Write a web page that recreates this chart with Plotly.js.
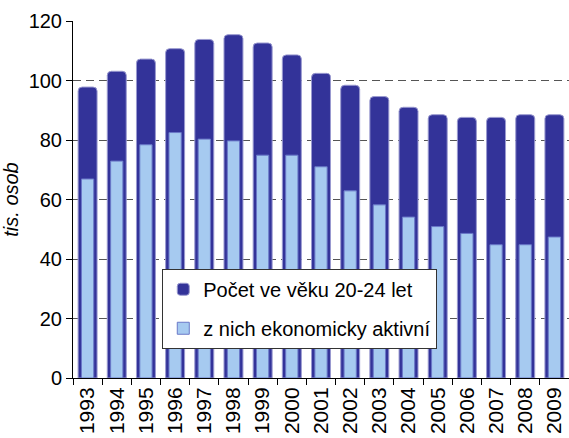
<!DOCTYPE html>
<html>
<head>
<meta charset="utf-8">
<script src="https://cdn.plot.ly/plotly-3.0.1.min.js"></script>
<style>
  body { margin: 0; background: #fff; }
  #graf { width: 569px; height: 438px; }
</style>
</head>
<body>
<div id="graf"></div>
<script>
var roky =
["1993", "1994", "1995", "1996", "1997", "1998", "1999", "2000", "2001", "2002", "2003", "2004", "2005", "2006", "2007", "2008", "2009"];
var pocet =
[97.8, 103.1, 107.2, 110.7, 113.8, 115.4, 112.6, 108.6, 102.4, 98.4, 94.6, 91.0, 88.5, 87.6, 87.6, 88.5, 88.5];
var aktivni =
[66.9, 72.9, 78.4, 82.5, 80.3, 79.7, 74.9, 74.9, 71.0, 62.9, 58.2, 54.1, 50.9, 48.6, 44.8, 44.8, 47.4];
var nazvy =
["Počet ve věku 20-24 let", "z nich ekonomicky aktivní"];

function graf() {
    var celkem = {
        x: roky,
        y: pocet,
        name: nazvy[0],
        type: 'bar',
        width: 0.65,
        legendgroup: 'a',
        marker: {color: '#333399', cornerradius: 4, line: {color: '#9a9ad0', width: 1}}
    };

    var akt = {
        x: roky,
        y: aktivni,
        name: nazvy[1],
        type: 'bar',
        width: 0.42,
        legendgroup: 'b',
        marker: {color: '#a6caf0', line: {color: '#6a78c8', width: 1}}
    };

    var layout = {
        width: 569,
        height: 438,
        margin: {l: 73, r: 0, t: 21, b: 60},
        barmode: 'overlay',
        paper_bgcolor: '#fff',
        plot_bgcolor: '#fff',
        font: {family: 'Liberation Sans, Arial, sans-serif', size: 20, color: '#000'},
        showlegend: true,
        legend: {
            x: 0.18, y: 0.306, xanchor: 'left', yanchor: 'top',
            bgcolor: '#fff', bordercolor: '#333', borderwidth: 1,
            traceorder: 'grouped', tracegroupgap: 10,
            font: {size: 20}
        },
        xaxis: {
            type: 'category',
            tickangle: -90,
            showline: true, linecolor: '#000', linewidth: 1,
            ticks: 'outside', ticklen: 6, tickcolor: '#000',
            tickson: 'boundaries',
            showgrid: false,
            tickfont: {size: 21}
        },
        yaxis: {
            range: [0, 120], dtick: 20,
            showline: true, linecolor: '#000', linewidth: 1,
            ticks: 'outside', ticklen: 6, tickcolor: '#000',
            gridcolor: '#555', griddash: '8px,5px', gridwidth: 1,
            zeroline: false,
            tickfont: {size: 20},
            title: {text: '<i>tis. osob</i>', font: {size: 20}, standoff: 5}
        }
    };

    Plotly.newPlot('graf', [celkem, akt], layout, {displayModeBar: false, staticPlot: true});
}
graf();
</script>
</body>
</html>
